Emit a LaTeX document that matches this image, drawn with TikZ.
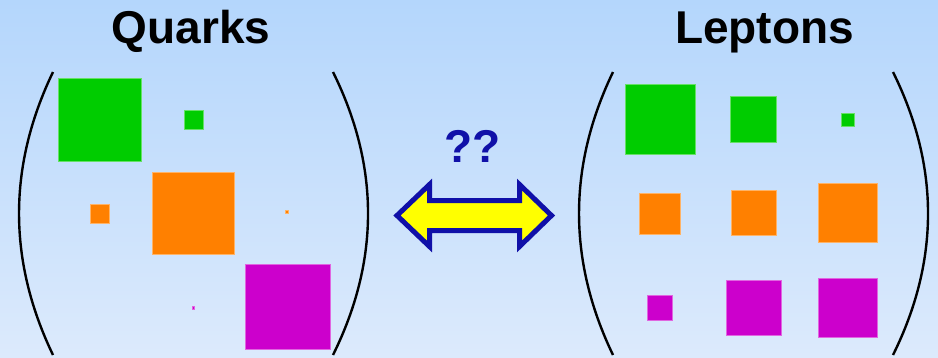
\documentclass[tikz,border=0pt]{standalone}
\usepackage{fontspec}
\setmainfont{Liberation Sans}
\definecolor{bgtop}{HTML}{B4D6FC}
\definecolor{bgbot}{HTML}{DCEAFC}
\definecolor{qgreen}{HTML}{00CC00}
\definecolor{qorange}{HTML}{FF8000}
\definecolor{qmagenta}{HTML}{CC00CC}
\definecolor{qblue}{HTML}{1010A8}
\definecolor{qyellow}{HTML}{FFFF00}
\begin{document}
\begin{tikzpicture}[x=1pt,y=-1pt,
  sq/.style={rectangle,inner sep=0pt,outer sep=0pt,line width=0.6pt},
  gsq/.style={sq,fill=qgreen,draw=qgreen!60!white},
  osq/.style={sq,fill=qorange,draw=qorange!60!white},
  msq/.style={sq,fill=qmagenta,draw=qmagenta!60!white},
  paren/.style={draw=black,line width=2.4pt},
  title/.style={font=\fontsize{46}{50}\selectfont\bfseries,anchor=base,inner sep=0pt},
  dblarrow/.style={draw=qblue,fill=qyellow,line width=5pt,line join=miter}]
  % background
  \shade[top color=bgtop,bottom color=bgbot] (0,0) rectangle (938,357);
  \useasboundingbox (0,0) rectangle (938,357);

  % titles
  \node[title] (quarks) at (191,43) {Quarks};
  \node[title] (leptons) at (764.5,43) {Leptons};
  \node[title,text=qblue] (qq) at (472.5,162.5) {??};

  % quark matrix
  \draw[paren] (53,72) .. controls (7.7,166.3) and (7.7,260.7) .. (53,355);
  \draw[paren] (333,72) .. controls (379.7,166.3) and (379.7,260.7) .. (333,355);
  \node[gsq,minimum size=83pt] (qg1) at (99.5,119.5) {};
  \node[gsq,minimum size=19pt] (qg2) at (193.5,119.5) {};
  \node[osq,minimum size=19pt] (qo1) at (100,213.5) {};
  \node[osq,minimum size=82pt] (qo2) at (193.5,213.5) {};
  \node[osq,minimum size=3.5pt] (qo3) at (287,212) {};
  \node[msq,minimum width=2.5pt,minimum height=3.5pt] (qm2) at (193.5,308) {};
  \node[msq,minimum size=85pt] (qm3) at (287.5,307) {};

  % lepton matrix
  \draw[paren] (613,72) .. controls (567.7,166.3) and (567.7,260.7) .. (613,355);
  \draw[paren] (893,72) .. controls (939.7,166.3) and (939.7,260.7) .. (893,355);
  \node[gsq,minimum size=70pt] (lg1) at (660,119.5) {};
  \node[gsq,minimum size=46pt] (lg2) at (753.5,119.5) {};
  \node[gsq,minimum size=13pt] (lg3) at (847.5,119.5) {};
  \node[osq,minimum size=41pt] (lo1) at (660,213.5) {};
  \node[osq,minimum size=45pt] (lo2) at (753.5,213) {};
  \node[osq,minimum size=59pt] (lo3) at (847.5,213) {};
  \node[msq,minimum size=25pt] (lm1) at (659.5,307.5) {};
  \node[msq,minimum size=55pt] (lm2) at (753.5,307.5) {};
  \node[msq,minimum size=59pt] (lm3) at (847.5,308) {};

  % double arrow between the two matrices
  \draw[dblarrow] (397,215.5) -- (429.5,184.5) -- (429.5,200.5) -- (519.5,200.5)
    -- (519.5,184.5) -- (551.5,215.5) -- (519.5,246.5) -- (519.5,230.5)
    -- (429.5,230.5) -- (429.5,246.5) -- cycle;
\end{tikzpicture}
\end{document}
